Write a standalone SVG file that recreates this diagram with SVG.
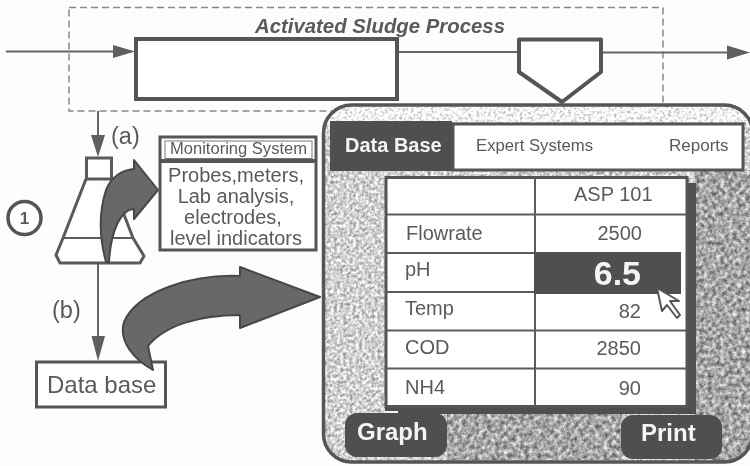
<svg xmlns="http://www.w3.org/2000/svg" width="750" height="466" viewBox="0 0 750 466">
<style>
text{font-family:"Liberation Sans",Arial,sans-serif;fill:#5a5a5a}
.w{fill:#f4f4f4;font-weight:700}
.box{fill:#fff;stroke:#555;stroke-width:4}
.thin{fill:none;stroke:#666;stroke-width:2}
.fat{fill:#686868;stroke:#474747;stroke-width:2;stroke-linejoin:round}
.head{fill:#5f5f5f}
.rule{stroke:#5c5c5c;stroke-width:2}
.t19{font-size:20px}
.dark{fill:#505050}
</style>
<defs>
<filter id="soft" x="-2%" y="-2%" width="104%" height="104%"><feGaussianBlur stdDeviation="0.45"/></filter>
<filter id="grain" x="0" y="0" width="100%" height="100%" color-interpolation-filters="sRGB">
<feTurbulence type="fractalNoise" baseFrequency="0.32" numOctaves="3" seed="4"/>
<feColorMatrix type="matrix" values="0.8 0 0 0 0.42  0.8 0 0 0 0.42  0.8 0 0 0 0.42  0 0 0 0 1"/>
<feComposite in2="SourceAlpha" operator="in"/>
</filter>
<filter id="grainDark" x="0" y="0" width="100%" height="100%" color-interpolation-filters="sRGB">
<feTurbulence type="fractalNoise" baseFrequency="0.24" numOctaves="3" seed="9"/>
<feColorMatrix type="matrix" values="0.9 0 0 0 0.2  0.9 0 0 0 0.2  0.9 0 0 0 0.2  0 0 0 0 1"/>
<feComposite in2="SourceAlpha" operator="in"/>
</filter>
<filter id="grainLight" x="0" y="0" width="100%" height="100%" color-interpolation-filters="sRGB">
<feTurbulence type="fractalNoise" baseFrequency="0.35" numOctaves="2" seed="2"/>
<feColorMatrix type="matrix" values="0.8 0 0 0 0.56  0.8 0 0 0 0.56  0.8 0 0 0 0.56  0 0 0 0 1"/>
<feComposite in2="SourceAlpha" operator="in"/>
</filter>
<clipPath id="panelClip"><rect x="323.500" y="105" width="429" height="357" rx="28"/></clipPath>
</defs>
<rect width="750" height="466" fill="#fdfdfd"/>
<g filter="url(#soft)">
<g id="connectors">
<rect x="69" y="7.500" width="594" height="103.500" fill="none" stroke="#888" stroke-width="1.500" stroke-dasharray="7 4"/>
<path class="thin" d="M6 51.500H120M398 52H519M601 52.500H732M98 111V140M98 263V340"/>
<path class="head" d="M113 45L135 51.500L113 58ZM727 45.500L750 52.500L727 59.500ZM91 135H105L98 157ZM91.500 336H105L98 361Z"/>
</g>
<g id="process-tank"><rect class="box" x="136" y="39" width="261" height="60"/></g>
<g id="clarifier"><path class="box" d="M519 39.500H601V72L562 102L519 72Z" stroke-linejoin="round"/></g>
<text x="380" y="33" text-anchor="middle" font-size="20" font-weight="700" font-style="italic" textLength="250" lengthAdjust="spacingAndGlyphs">Activated Sludge Process</text>
<text x="111" y="144" font-size="23.500">(a)</text>
<text x="52" y="318" font-size="23.500">(b)</text>
<g id="step-one"><circle cx="24.500" cy="218" r="16.500" fill="#fff" stroke="#555" stroke-width="3.500"/><text x="24.500" y="224" text-anchor="middle" font-size="17" font-weight="700">1</text></g>
<g id="flask">
<path d="M86 179L63 238L56 255L60 263H140L144 256L133 238L123 212" fill="#fff" stroke="#5a5a5a" stroke-width="3" stroke-linejoin="round"/>
<path d="M63 238H133" class="rule" stroke-width="3"/>
<rect x="86.500" y="158" width="25" height="21" fill="#fff" stroke="#5a5a5a" stroke-width="3"/>
<path d="M111 179L116 190" stroke="#5a5a5a" stroke-width="3"/>
</g>
<g id="monitoring-arrow"><path class="fat" d="M134 169L134 160L158 190L134 219L134 209C122 209 111 228 109 262L106 262C100 240 98 215 106 190C111 177 122 170 134 169Z"/></g>
<g id="monitoring-system">
<rect x="160" y="137" width="156" height="113" fill="#fff" stroke="#555" stroke-width="3"/>
<path d="M160 161H316" stroke="#555" stroke-width="4"/>
<rect x="165" y="141" width="147" height="17.500" fill="#fff" stroke="#777" stroke-width="1"/>
<text x="170" y="154" font-size="16" textLength="137" lengthAdjust="spacingAndGlyphs">Monitoring System</text>
<text x="236" y="182" text-anchor="middle" font-size="20" textLength="136" lengthAdjust="spacingAndGlyphs">Probes,meters,</text>
<text x="236" y="203" text-anchor="middle" font-size="20">Lab analysis,</text>
<text x="233" y="224" text-anchor="middle" font-size="20">electrodes,</text>
<text x="236" y="245" text-anchor="middle" font-size="20" textLength="132" lengthAdjust="spacingAndGlyphs">level indicators</text>
</g>
<g id="data-base"><rect x="36.500" y="362" width="129" height="45" fill="#fff" stroke="#555" stroke-width="3"/><text x="47" y="393" font-size="24">Data base</text></g>
<g id="database-arrow"><path class="fat" d="M240 276L240 267L320 297L240 328L240 315C200 315 165 325 148 346L153 370C135 360 118 342 124 322C138 290 195 274 240 276Z"/></g>
<g id="screen">
<g clip-path="url(#panelClip)">
<rect x="323" y="105" width="430" height="357" fill="#bbb" filter="url(#grain)"/>
<rect x="695" y="170" width="58" height="292" fill="#999" filter="url(#grainDark)"/>
<rect x="447" y="414" width="175" height="46" fill="#999" filter="url(#grainDark)"/>
<rect x="323" y="105" width="430" height="17" fill="#eee" filter="url(#grainLight)"/>
</g>
<rect x="323.500" y="105" width="429" height="357" rx="28" fill="none" stroke="#555" stroke-width="3.500"/>
<g id="tab-bar">
<rect x="453" y="124" width="290" height="46" fill="#fff" stroke="#555" stroke-width="3"/>
<rect class="dark" x="330" y="121" width="122" height="50"/>
<text class="w" x="345" y="152" font-size="20">Data Base</text>
<text x="476" y="151" font-size="17" textLength="117" lengthAdjust="spacingAndGlyphs">Expert Systems</text>
<text x="669" y="151" font-size="17">Reports</text>
</g>
<g id="table">
<rect x="385" y="183" width="311" height="231" class="dark"/>
<rect x="386" y="177.500" width="301" height="229" fill="#fff" stroke="#555" stroke-width="3"/>
<path class="rule" d="M535 178V406M387 214.500H686M387 253H535M387 292H535M535 330.500H686M387 330.500H535M387 368.500H686"/>
<rect class="dark" x="534" y="252" width="147" height="42"/>
<text x="574" y="201" font-size="20">ASP 101</text>
<text x="406" y="240" class="t19">Flowrate</text>
<text x="405" y="276" class="t19">pH</text>
<text x="405" y="315" class="t19">Temp</text>
<text x="405" y="354" class="t19">COD</text>
<text x="405" y="394" class="t19">NH4</text>
<text x="642" y="240" text-anchor="end" class="t19">2500</text>
<text class="w" x="641" y="285" text-anchor="end" font-size="34">6.5</text>
<text x="641" y="318" text-anchor="end" class="t19">82</text>
<text x="641" y="355" text-anchor="end" class="t19">2850</text>
<text x="641" y="395" text-anchor="end" class="t19">90</text>
</g>
<g id="cursor"><path d="M657 288L662 311L667 305L677 318L680 315L670 301L679 301Z" fill="#fff" stroke="#555" stroke-width="2" stroke-linejoin="round"/></g>
<path d="M384 412H398" stroke="#f2f2f2" stroke-width="2"/>
<g id="graph-button"><rect class="dark" x="345" y="413" width="102" height="44" rx="12"/><text class="w" x="357" y="440" font-size="24">Graph</text></g>
<g id="print-button"><rect class="dark" x="621" y="415" width="101" height="44" rx="12"/><text class="w" x="641" y="441" font-size="24">Print</text></g>
</g>
</g>
</svg>
